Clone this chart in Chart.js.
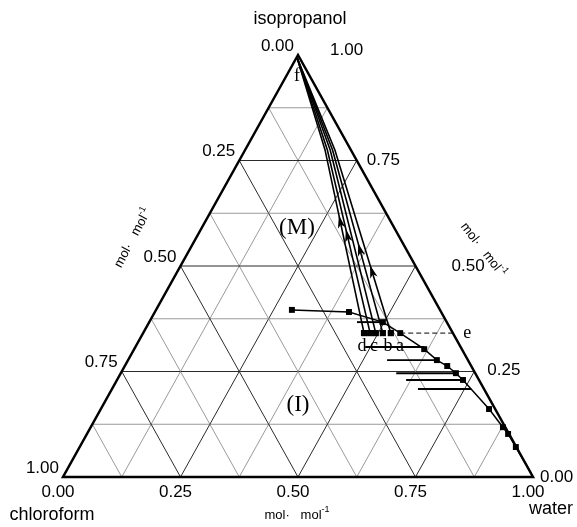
<!DOCTYPE html>
<html>
<head>
<meta charset="utf-8">
<script src="https://cdn.jsdelivr.net/npm/chart.js@4/dist/chart.umd.min.js"></script>
<style>
  html, body { margin: 0; padding: 0; background: #fff; }
  canvas { display: block; }
</style>
</head>
<body>
<canvas id="c" width="577" height="527"></canvas>
<script>
// Compositions are mole fractions given as (water, isopropanol);
// chloroform = 1 - water - isopropanol.
const cornerNames = ['isopropanol', 'chloroform', 'water'];
const tickValues = [0, 0.25, 0.5, 0.75, 1];
const tickLabels = ['0.00', '0.25', '0.50', '0.75', '1.00'];
const gridEighths = [1, 2, 3, 4, 5, 6, 7];
const unitText = 'mol·   mol';
const unitExp = '-1';

// Binodal (solubility) curve
const binodalWater = [0.289, 0.413, 0.497, 0.547, 0.617, 0.657, 0.686, 0.713, 0.736, 0.826, 0.877, 0.896, 0.928, 0.991];
const binodalIso   = [0.396, 0.391, 0.367, 0.341, 0.303, 0.277, 0.263, 0.246, 0.230, 0.161, 0.118, 0.102, 0.071, 0.0095];

// Paths from the feed point f to the end points d, c, b, a
const feedWater = 0.0;
const feedIso = 0.995;
const pathMidWater = [0.170, 0.175, 0.181, 0.186, 0.191];
const pathMidIso   = [0.775, 0.775, 0.775, 0.775, 0.775];
const pathEndWater = [0.470, 0.483, 0.495, 0.510, 0.527];
const pathEndIso   = [0.341, 0.341, 0.341, 0.341, 0.341];
const pathArrowIso = [0.604, 0.571, null, 0.538, 0.486];
const pathNames = ['d', 'c', '', 'b', 'a'];

// Tie lines (the second one is the dashed line e)
const tieIso        = [0.367, 0.341, 0.308, 0.277, 0.246, 0.230, 0.2085];
const tieWaterLeft  = [0.442, 0.547, 0.489, 0.551, 0.586, 0.615, 0.651];
const tieWaterRight = [0.497, 0.664, 0.614, 0.657, 0.712, 0.736, 0.764];
const tieNames      = ['', 'e', '', '', '', '', ''];

// (water, isopropanol) -> cartesian position inside the triangle
const toXY = (w, i) => ({ x: w + i / 2, y: i });

const SANS = '"Liberation Sans", Arial, Helvetica, sans-serif';
const SERIF = '"Liberation Serif", "Times New Roman", serif';

const datasets = [];

datasets.push({
  data: binodalWater.map((w, k) => toXY(w, binodalIso[k])),
  showLine: true,
  borderColor: '#000',
  borderWidth: 1.5,
  pointStyle: 'rect',
  pointRadius: binodalWater.map((_, k) => (k === binodalWater.length - 1 ? 0 : 4.2)),
  pointBackgroundColor: '#000',
  pointBorderColor: '#000',
  pointBorderWidth: 0
});

pathEndWater.forEach((w, k) => {
  datasets.push({
    data: [
      toXY(feedWater, feedIso),
      toXY(pathMidWater[k], pathMidIso[k]),
      toXY(w, pathEndIso[k])
    ],
    showLine: true,
    borderColor: '#000',
    borderWidth: 1.6,
    pointStyle: 'rect',
    pointRadius: [0, 0, 4.4],
    pointBackgroundColor: '#000',
    pointBorderWidth: 0,
    isPath: true,
    arrowIso: pathArrowIso[k]
  });
});

tieIso.forEach((iso, k) => {
  const dashed = tieNames[k] === 'e';
  datasets.push({
    data: [toXY(tieWaterLeft[k], iso), toXY(tieWaterRight[k], iso)],
    showLine: true,
    borderColor: '#000',
    borderWidth: dashed ? 1 : 1.9,
    borderDash: dashed ? [5, 3] : [],
    pointRadius: 0
  });
});

// Triangle frame and the three families of grid lines
const ternaryFrame = {
  id: 'ternaryFrame',
  beforeDatasetsDraw(chart) {
    const { ctx, scales: { x: xs, y: ys } } = chart;
    const P = (w, i) => [xs.getPixelForValue(w + i / 2), ys.getPixelForValue(i)];
    const seg = (a, b) => { ctx.beginPath(); ctx.moveTo(a[0], a[1]); ctx.lineTo(b[0], b[1]); ctx.stroke(); };
    ctx.save();
    gridEighths.forEach(s => {
      const f = s / 8;
      const major = s % 2 === 0;
      ctx.strokeStyle = major ? '#2a2a2a' : '#808080';
      ctx.lineWidth = major ? 1 : 0.8;
      seg(P(0, f), P(1 - f, f));
      seg(P(f, 0), P(f, 1 - f));
      seg(P(1 - f, 0), P(0, 1 - f));
    });
    ctx.strokeStyle = '#000';
    ctx.lineWidth = 2.5;
    ctx.lineJoin = 'miter';
    ctx.beginPath();
    const a = P(0, 1), b = P(0, 0), c = P(1, 0);
    ctx.moveTo(a[0], a[1]); ctx.lineTo(b[0], b[1]); ctx.lineTo(c[0], c[1]);
    ctx.closePath();
    ctx.stroke();
    ctx.restore();
  }
};

function drawUnit(ctx, cx, cy, ang) {
  ctx.save();
  ctx.translate(cx, cy);
  ctx.rotate(ang);
  ctx.font = '13px ' + SANS;
  const wa = ctx.measureText(unitText).width;
  ctx.font = '9px ' + SANS;
  const wb = ctx.measureText(unitExp).width;
  const x0 = -(wa + wb) / 2;
  ctx.textAlign = 'left';
  ctx.textBaseline = 'middle';
  ctx.font = '13px ' + SANS;
  ctx.fillText(unitText, x0, 0);
  ctx.font = '9px ' + SANS;
  ctx.fillText(unitExp, x0 + wa, -5);
  ctx.restore();
}

// Arrowheads, tick labels, names and annotations
const ternaryText = {
  id: 'ternaryText',
  afterDatasetsDraw(chart) {
    const { ctx, scales: { x: xs, y: ys } } = chart;
    const P = (w, i) => [xs.getPixelForValue(w + i / 2), ys.getPixelForValue(i)];
    ctx.save();
    ctx.fillStyle = '#000';

    // arrowheads along the paths, pointing back towards f
    chart.data.datasets.forEach((ds, di) => {
      if (!ds.isPath || ds.arrowIso == null) return;
      const pts = chart.getDatasetMeta(di).data.map(e => [e.x, e.y]);
      const yA = ys.getPixelForValue(ds.arrowIso);
      for (let k = 0; k < pts.length - 1; k++) {
        const p = pts[k], q = pts[k + 1];
        if ((yA - p[1]) * (yA - q[1]) <= 0) {
          const t = (yA - p[1]) / (q[1] - p[1]);
          const x = p[0] + t * (q[0] - p[0]);
          let dx = p[0] - q[0], dy = p[1] - q[1];
          const L = Math.hypot(dx, dy); dx /= L; dy /= L;
          const nx = -dy, ny = dx;
          ctx.beginPath();
          ctx.moveTo(x + dx * 7, yA + dy * 7);
          ctx.lineTo(x - dx * 6 + nx * 3.8, yA - dy * 6 + ny * 3.8);
          ctx.lineTo(x - dx * 2.5, yA - dy * 2.5);
          ctx.lineTo(x - dx * 6 - nx * 3.8, yA - dy * 6 - ny * 3.8);
          ctx.closePath();
          ctx.fill();
          break;
        }
      }
    });

    ctx.font = '17px ' + SANS;
    ctx.textBaseline = 'middle';
    // chloroform scale on the left edge
    ctx.textAlign = 'right';
    tickValues.forEach((v, k) => {
      const [ex, ey] = P(0, 1 - v);
      ctx.fillText(tickLabels[k], ex - 4, ey - 9);
    });
    // water scale on the bottom edge
    ctx.textAlign = 'center';
    tickValues.forEach((v, k) => {
      const [ex, ey] = P(v, 0);
      ctx.fillText(tickLabels[k], ex - 5, ey + 15);
    });
    // isopropanol scale on the right edge
    ctx.textAlign = 'left';
    const rightShift = [[7, 0], [13, -1], [36, 0], [10, 0], [32, -5]];
    tickValues.forEach((v, k) => {
      const [ex, ey] = P(1 - v, v);
      ctx.fillText(tickLabels[k], ex + rightShift[k][0], ey + rightShift[k][1]);
    });

    // component names
    ctx.font = '18px ' + SANS;
    ctx.textAlign = 'center';
    ctx.fillText(cornerNames[0], 300, 19);
    ctx.fillText(cornerNames[1], 52, 515);
    ctx.fillText(cornerNames[2], 551, 509);

    // units along each side
    drawUnit(ctx, 133, 238, -62 * Math.PI / 180);
    drawUnit(ctx, 483, 250, 52 * Math.PI / 180);
    drawUnit(ctx, 297, 515, 0);

    // region and point annotations
    ctx.font = '23px ' + SERIF;
    ctx.fillText('(M)', 297, 228);
    ctx.fillText('(I)', 298, 405);
    ctx.font = '18px ' + SERIF;
    ctx.fillText('f', 297, 76);
    const letterX = [362, 374, 0, 388, 400];
    pathNames.forEach((n, k) => { if (n) ctx.fillText(n, letterX[k], 346); });
    tieNames.forEach((n, k) => {
      if (!n) return;
      const [rx, ry] = P(tieWaterRight[k], tieIso[k]);
      ctx.textAlign = 'left';
      ctx.fillText(n, rx + 8, ry);
    });
    ctx.restore();
  }
};

new Chart(document.getElementById('c'), {
  type: 'scatter',
  data: { datasets },
  options: {
    responsive: false,
    animation: false,
    devicePixelRatio: 1,
    layout: { padding: { left: 63, right: 44, top: 55, bottom: 50 } },
    scales: {
      x: { type: 'linear', min: 0, max: 1, display: false },
      y: { type: 'linear', min: 0, max: 1, display: false }
    },
    plugins: {
      legend: { display: false },
      tooltip: { enabled: false }
    },
    elements: { line: { tension: 0 } }
  },
  plugins: [ternaryFrame, ternaryText]
});
</script>
</body>
</html>
